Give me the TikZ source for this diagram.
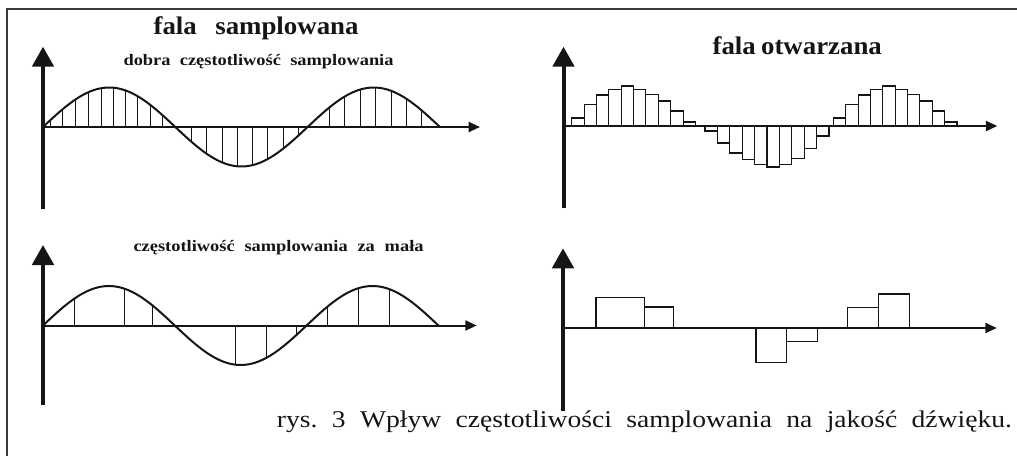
\documentclass[tikz,border=0pt]{standalone}
\usepackage{fontspec}
\setmainfont{Liberation Serif}
\newfontfamily\headfont{Liberation Serif}[FakeStretch=1.06]
\newfontfamily\subfont{Liberation Serif}[FakeStretch=1.15]
\newfontfamily\capfont{Liberation Serif}[FakeStretch=1.15]
\usetikzlibrary{arrows.meta}
\definecolor{ink}{HTML}{151515}
\frenchspacing
\tikzset{
  yaxis/.style={draw=ink, line width=3pt, -{Triangle[length=15pt, width=16pt]}},
  xaxis/.style={draw=ink, line width=1.5pt, -{Triangle[length=8.5pt, width=7.5pt]}},
  wave/.style={draw=ink, line width=1.5pt},
  sampleline/.style={draw=ink, line width=0.7pt},
  barbox/.style={draw=ink, line width=0.8pt},
  heading/.style={anchor=base west, inner sep=0pt, text=ink,
    font=\headfont\fontsize{19}{22}\selectfont\bfseries},
  subheading/.style={anchor=base west, inner sep=0pt, text=ink,
    font=\subfont\fontsize{12}{14}\selectfont\bfseries},
  caption/.style={anchor=base west, inner sep=0pt, text=ink,
    font=\capfont\fontsize{18}{21}\selectfont},
  frameline/.style={draw=ink!85, line width=1pt}
}

\begin{document}
\begin{tikzpicture}[x=0.75pt, y=-0.75pt]
  \useasboundingbox (0,0) rectangle (1017,456);
  % frame (top and left edge)
  \draw[frameline] (7,456) -- (7,9) -- (1017,9);

  % texts
  \node[heading] (titlesampled) at (153.3,35) {\makebox[153.75pt][s]{fala samplowana}};
  \node[subheading] (goodrate) at (123.3,65.7) {\makebox[202.5pt][s]{dobra częstotliwość samplowania}};
  \node[heading] (titleplayed) at (712.3,55) {\makebox[127pt][s]{fala otwarzana}};
  \node[subheading] (lowrate) at (133.3,251) {\makebox[217.5pt][s]{częstotliwość samplowania za mała}};
  \node[caption] (caption) at (276.7,427.5) {\makebox[551.25pt][s]{rys. 3 Wpływ częstotliwości samplowania na jakość dźwięku.}};

  % sampled wave, good rate
  \begin{scope}[shift={(43,127)}, yscale=-1]
    \draw[wave] plot[domain=0:397, samples=120, smooth] (\x, {39.5*sin(\x/132.3*180)});
    \foreach \s in {7,19.7,32.7,45.3,58,70.3,82.7,94.7,107,119.7,
                    148,163.7,179,194.3,209.3,224.7,240.3,255.7,
                    286.3,301.3,317,332,348,363.7,378.7}
      \draw[sampleline] (\s,0) -- (\s,{39.5*sin(\s/132.3*180)});
    \draw[xaxis] (0,0) -- (437,0);
    \draw[yaxis] (0,-81.6) -- (0,80.3);
  \end{scope}

  % played wave, good rate
  \begin{scope}[shift={(563.5,126)}, yscale=-1]
    \foreach \h [count=\i from 0] in {8,21.5,31,36.5,40,36.5,31.5,25,15,4}
      \draw[barbox] ({8.2+12.37*\i},0) rectangle ++(12.37,\h);
    \foreach \h [count=\i from 0] in {5,17,27,33.5,38.5,41,38.5,32.5,22.5,10}
      \draw[barbox] ({141.5+12.4*\i},0) rectangle ++(12.4,-\h);
    \foreach \h [count=\i from 0] in {8,21.5,31,36.5,40,36.5,31.5,25,15,4}
      \draw[barbox] ({269.8+12.37*\i},0) rectangle ++(12.37,\h);
    \draw[xaxis] (0,0) -- (433.8,0);
    \draw[yaxis] (0,-82) -- (0,79.3);
  \end{scope}

  % sampled wave, rate too low
  \begin{scope}[shift={(43,325.5)}, yscale=-1]
    \draw[wave] plot[domain=0:395.3, samples=120, smooth] (\x, {39.5*sin(\x/131.8*180)});
    \foreach \s in {31,81,109.7,192.7,223,253.7,284.3,315.3,346}
      \draw[sampleline] (\s,0) -- (\s,{39.5*sin(\s/131.8*180)});
    \draw[xaxis] (0,0) -- (433.7,0);
    \draw[yaxis] (0,-79.5) -- (0,80.5);
  \end{scope}

  % played wave, rate too low
  \begin{scope}[shift={(563,328)}, yscale=-1]
    \foreach \a/\b/\h in {33/81.3/30.7, 81.3/110.3/21, 193/223.7/-34.3,
                          223.7/254.3/-13.3, 284.7/315.3/20.7, 315.3/346.3/34}
      \draw[barbox] (\a,0) rectangle (\b,\h);
    \draw[xaxis] (0,0) -- (433.7,0);
    \draw[yaxis] (0,-82.7) -- (0,79.7);
  \end{scope}
\end{tikzpicture}
\end{document}
